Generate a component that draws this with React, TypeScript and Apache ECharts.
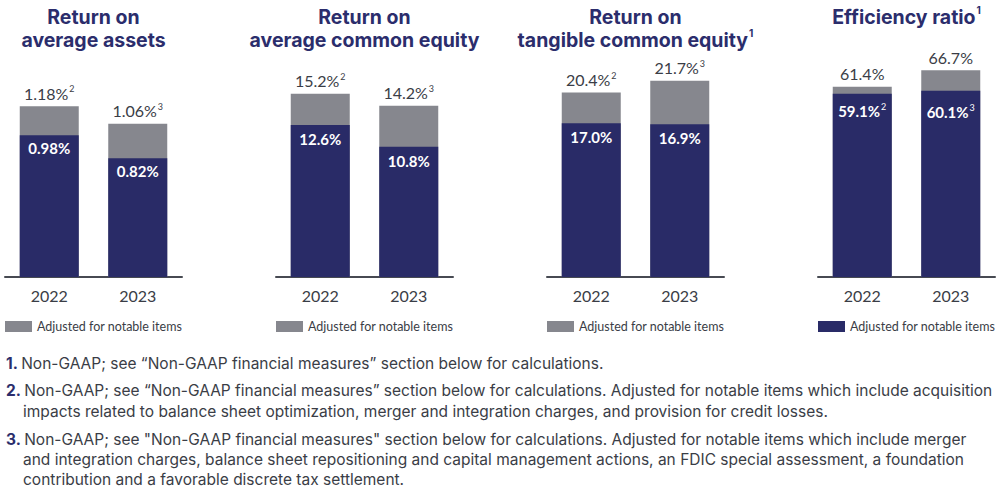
import React, { useEffect, useRef } from "react";
import * as echarts from "echarts";

const CATEGORIES = ["2022", "2023"];

// Return on average assets (%)
const ROAA_REPORTED = [0.98, 0.82];
const ROAA_ADJUSTED = [1.18, 1.06];
// Return on average common equity (%)
const ROACE_REPORTED = [12.6, 10.8];
const ROACE_ADJUSTED = [15.2, 14.2];
// Return on tangible common equity (%)
const ROTCE_REPORTED = [17.0, 16.9];
const ROTCE_ADJUSTED = [20.4, 21.7];
// Efficiency ratio (%)
const EFF_REPORTED = [61.4, 66.7];
const EFF_ADJUSTED = [59.1, 60.1];

const NOTE_MARKS = ["2", "3"];
const LEGEND_NAME = "Adjusted for notable items";

const FOOTNOTES = [
  {
    num: "1.",
    lines: ["Non-GAAP; see \u201cNon-GAAP financial measures\u201d section below for calculations."],
  },
  {
    num: "2.",
    lines: [
      "Non-GAAP; see \u201cNon-GAAP financial measures\u201d section below for calculations. Adjusted for notable items which include acquisition",
      "impacts related to balance sheet optimization, merger and integration charges, and provision for credit losses.",
    ],
  },
  {
    num: "3.",
    lines: [
      "Non-GAAP; see \"Non-GAAP financial measures\" section below for calculations. Adjusted for notable items which include merger",
      "and integration charges, balance sheet repositioning and capital management actions, an FDIC special assessment, a foundation",
      "contribution and a favorable discrete tax settlement.",
    ],
  },
];

const NAVY = "#292b67";
const GRAY = "#86878e";
const TITLE = "#2b2d6c";
const TEXT = "#3a3d46";
const FONT = "Lato";
const FONT_WIDE = "Inter";

type Panel = {
  title: string;
  titleSup?: string;
  top: number[];
  inner: number[];
  topSup: (string | null)[];
  innerSup: (string | null)[];
  decimals: number;
  yMax: number;
  left: number;
  legendColor: string;
  innerDist: number[];
};

const PANELS: Panel[] = [
  {
    title: "Return on\naverage assets",
    top: ROAA_ADJUSTED,
    inner: ROAA_REPORTED,
    topSup: NOTE_MARKS,
    innerSup: [null, null],
    decimals: 2,
    yMax: 1.5,
    left: 5,
    legendColor: GRAY,
    innerDist: [4, 4],
  },
  {
    title: "Return on\naverage common equity",
    top: ROACE_ADJUSTED,
    inner: ROACE_REPORTED,
    topSup: NOTE_MARKS,
    innerSup: [null, null],
    decimals: 1,
    yMax: 18,
    left: 276,
    legendColor: GRAY,
    innerDist: [5, 5],
  },
  {
    title: "Return on\ntangible common equity",
    titleSup: "1",
    top: ROTCE_ADJUSTED,
    inner: ROTCE_REPORTED,
    topSup: NOTE_MARKS,
    innerSup: [null, null],
    decimals: 1,
    yMax: 24,
    left: 547,
    legendColor: GRAY,
    innerDist: [5, 5],
  },
  {
    title: "Efficiency ratio",
    titleSup: "1",
    top: EFF_REPORTED,
    inner: EFF_ADJUSTED,
    topSup: [null, null],
    innerSup: NOTE_MARKS,
    decimals: 1,
    yMax: 70,
    left: 818,
    legendColor: NAVY,
    innerDist: [8, 12],
  },
];

const GRID_W = 177;

export default function App() {
  const ref = useRef<HTMLDivElement>(null);
  useEffect(() => {
    document.body.style.margin = "0";
    const chart = echarts.init(ref.current!, null, { renderer: "svg" });

    const grids: any[] = [];
    const xAxes: any[] = [];
    const yAxes: any[] = [];
    const series: any[] = [];
    const titles: any[] = [];
    const legends: any[] = [];

    PANELS.forEach((p, i) => {
      grids.push({ left: p.left, width: GRID_W, top: 60, bottom: 213, containLabel: false });
      xAxes.push({
        type: "category",
        gridIndex: i,
        data: CATEGORIES,
        axisLine: { lineStyle: { color: "#474a52", width: 2 } },
        axisTick: { show: false },
        axisLabel: { fontFamily: FONT, fontSize: 16, color: TEXT, margin: 10 },
      });
      yAxes.push({ type: "value", gridIndex: i, min: 0, max: p.yMax, show: false, splitLine: { show: false } });

      const topRich = {
        v: { fontFamily: FONT, fontSize: 16, color: TEXT, lineHeight: 18 },
        s: { fontFamily: FONT, fontSize: 9, color: TEXT, lineHeight: 18, verticalAlign: "top", padding: [0, 0, 3, 1] },
      };
      const innerRich = {
        v: { fontFamily: FONT, fontSize: 15, fontWeight: "bold", color: "#ffffff", lineHeight: 18 },
        s: { fontFamily: FONT, fontSize: 9, color: "#ffffff", lineHeight: 18, verticalAlign: "top", padding: [0, 0, 3, 1] },
      };

      series.push({
        type: "bar",
        name: i === 3 ? "Efficiency ratio" : LEGEND_NAME,
        xAxisIndex: i,
        yAxisIndex: i,
        barWidth: 59,
        barGap: "-100%",
        itemStyle: { color: GRAY },
        data: p.top.map((v, j) => ({
          value: v,
          label: {
            show: true,
            position: "top",
            distance: 4,
            formatter: `{v|${v.toFixed(p.decimals)}%}` + (p.topSup[j] ? `{s|${p.topSup[j]}}` : ""),
            rich: topRich,
          },
        })),
      });
      series.push({
        type: "bar",
        name: i === 3 ? LEGEND_NAME : "Reported",
        xAxisIndex: i,
        yAxisIndex: i,
        barWidth: 59,
        barGap: "-100%",
        itemStyle: { color: NAVY },
        data: p.inner.map((v, j) => ({
          value: v,
          label: {
            show: true,
            position: "insideTop",
            distance: p.innerDist[j],
            formatter: `{v|${v.toFixed(p.decimals)}%}` + (p.innerSup[j] ? `{s|${p.innerSup[j]}}` : ""),
            rich: innerRich,
          },
        })),
      });

      const lines = p.title.split("\n");
      const text = lines
        .map((l, k) => `{t|${l}}` + (k === lines.length - 1 && p.titleSup ? `{s|${p.titleSup}}` : ""))
        .join("\n");
      titles.push({
        text,
        left: p.left + GRID_W / 2,
        top: 5,
        textAlign: "center",
        padding: 0,
        textStyle: {
          rich: {
            t: { fontFamily: FONT_WIDE, fontSize: 19.5, fontWeight: "bold", color: TITLE, lineHeight: 23 },
            s: { fontFamily: FONT_WIDE, fontSize: 10, fontWeight: "bold", color: TITLE, lineHeight: 23, verticalAlign: "top", padding: [0, 0, 0, 1] },
          },
        },
      });

      legends.push({
        data: [{ name: LEGEND_NAME, itemStyle: { color: p.legendColor } }],
        left: p.left,
        top: 320,
        padding: 0,
        icon: "rect",
        itemWidth: 27,
        itemHeight: 11,
        selectedMode: false,
        textStyle: { fontFamily: FONT, fontSize: 12.5, color: TEXT },
      });
    });

    const graphic: any[] = [];
    const lineYs = [[363], [390, 411], [439, 459, 479]];
    FOOTNOTES.forEach((f, i) => {
      f.lines.forEach((line, k) => {
        graphic.push({
          type: "text",
          x: k === 0 ? 6 : 23,
          y: lineYs[i][k],
          style: {
            text: k === 0 ? `{n|${f.num}} {r|${line}}` : `{r|${line}}`,
            verticalAlign: "middle",
            rich: {
              n: { fontFamily: FONT_WIDE, fontSize: 15.5, fontWeight: "bold", fill: TITLE },
              r: { fontFamily: FONT_WIDE, fontSize: 15.5, fill: TEXT },
            },
          },
        });
      });
    });

    chart.setOption({
      animation: false,
      backgroundColor: "#ffffff",
      title: titles,
      grid: grids,
      xAxis: xAxes,
      yAxis: yAxes,
      legend: legends,
      series,
      graphic,
    });
    return () => chart.dispose();
  }, []);
  return <div ref={ref} style={{ width: 1008, height: 490 }} />;
}
